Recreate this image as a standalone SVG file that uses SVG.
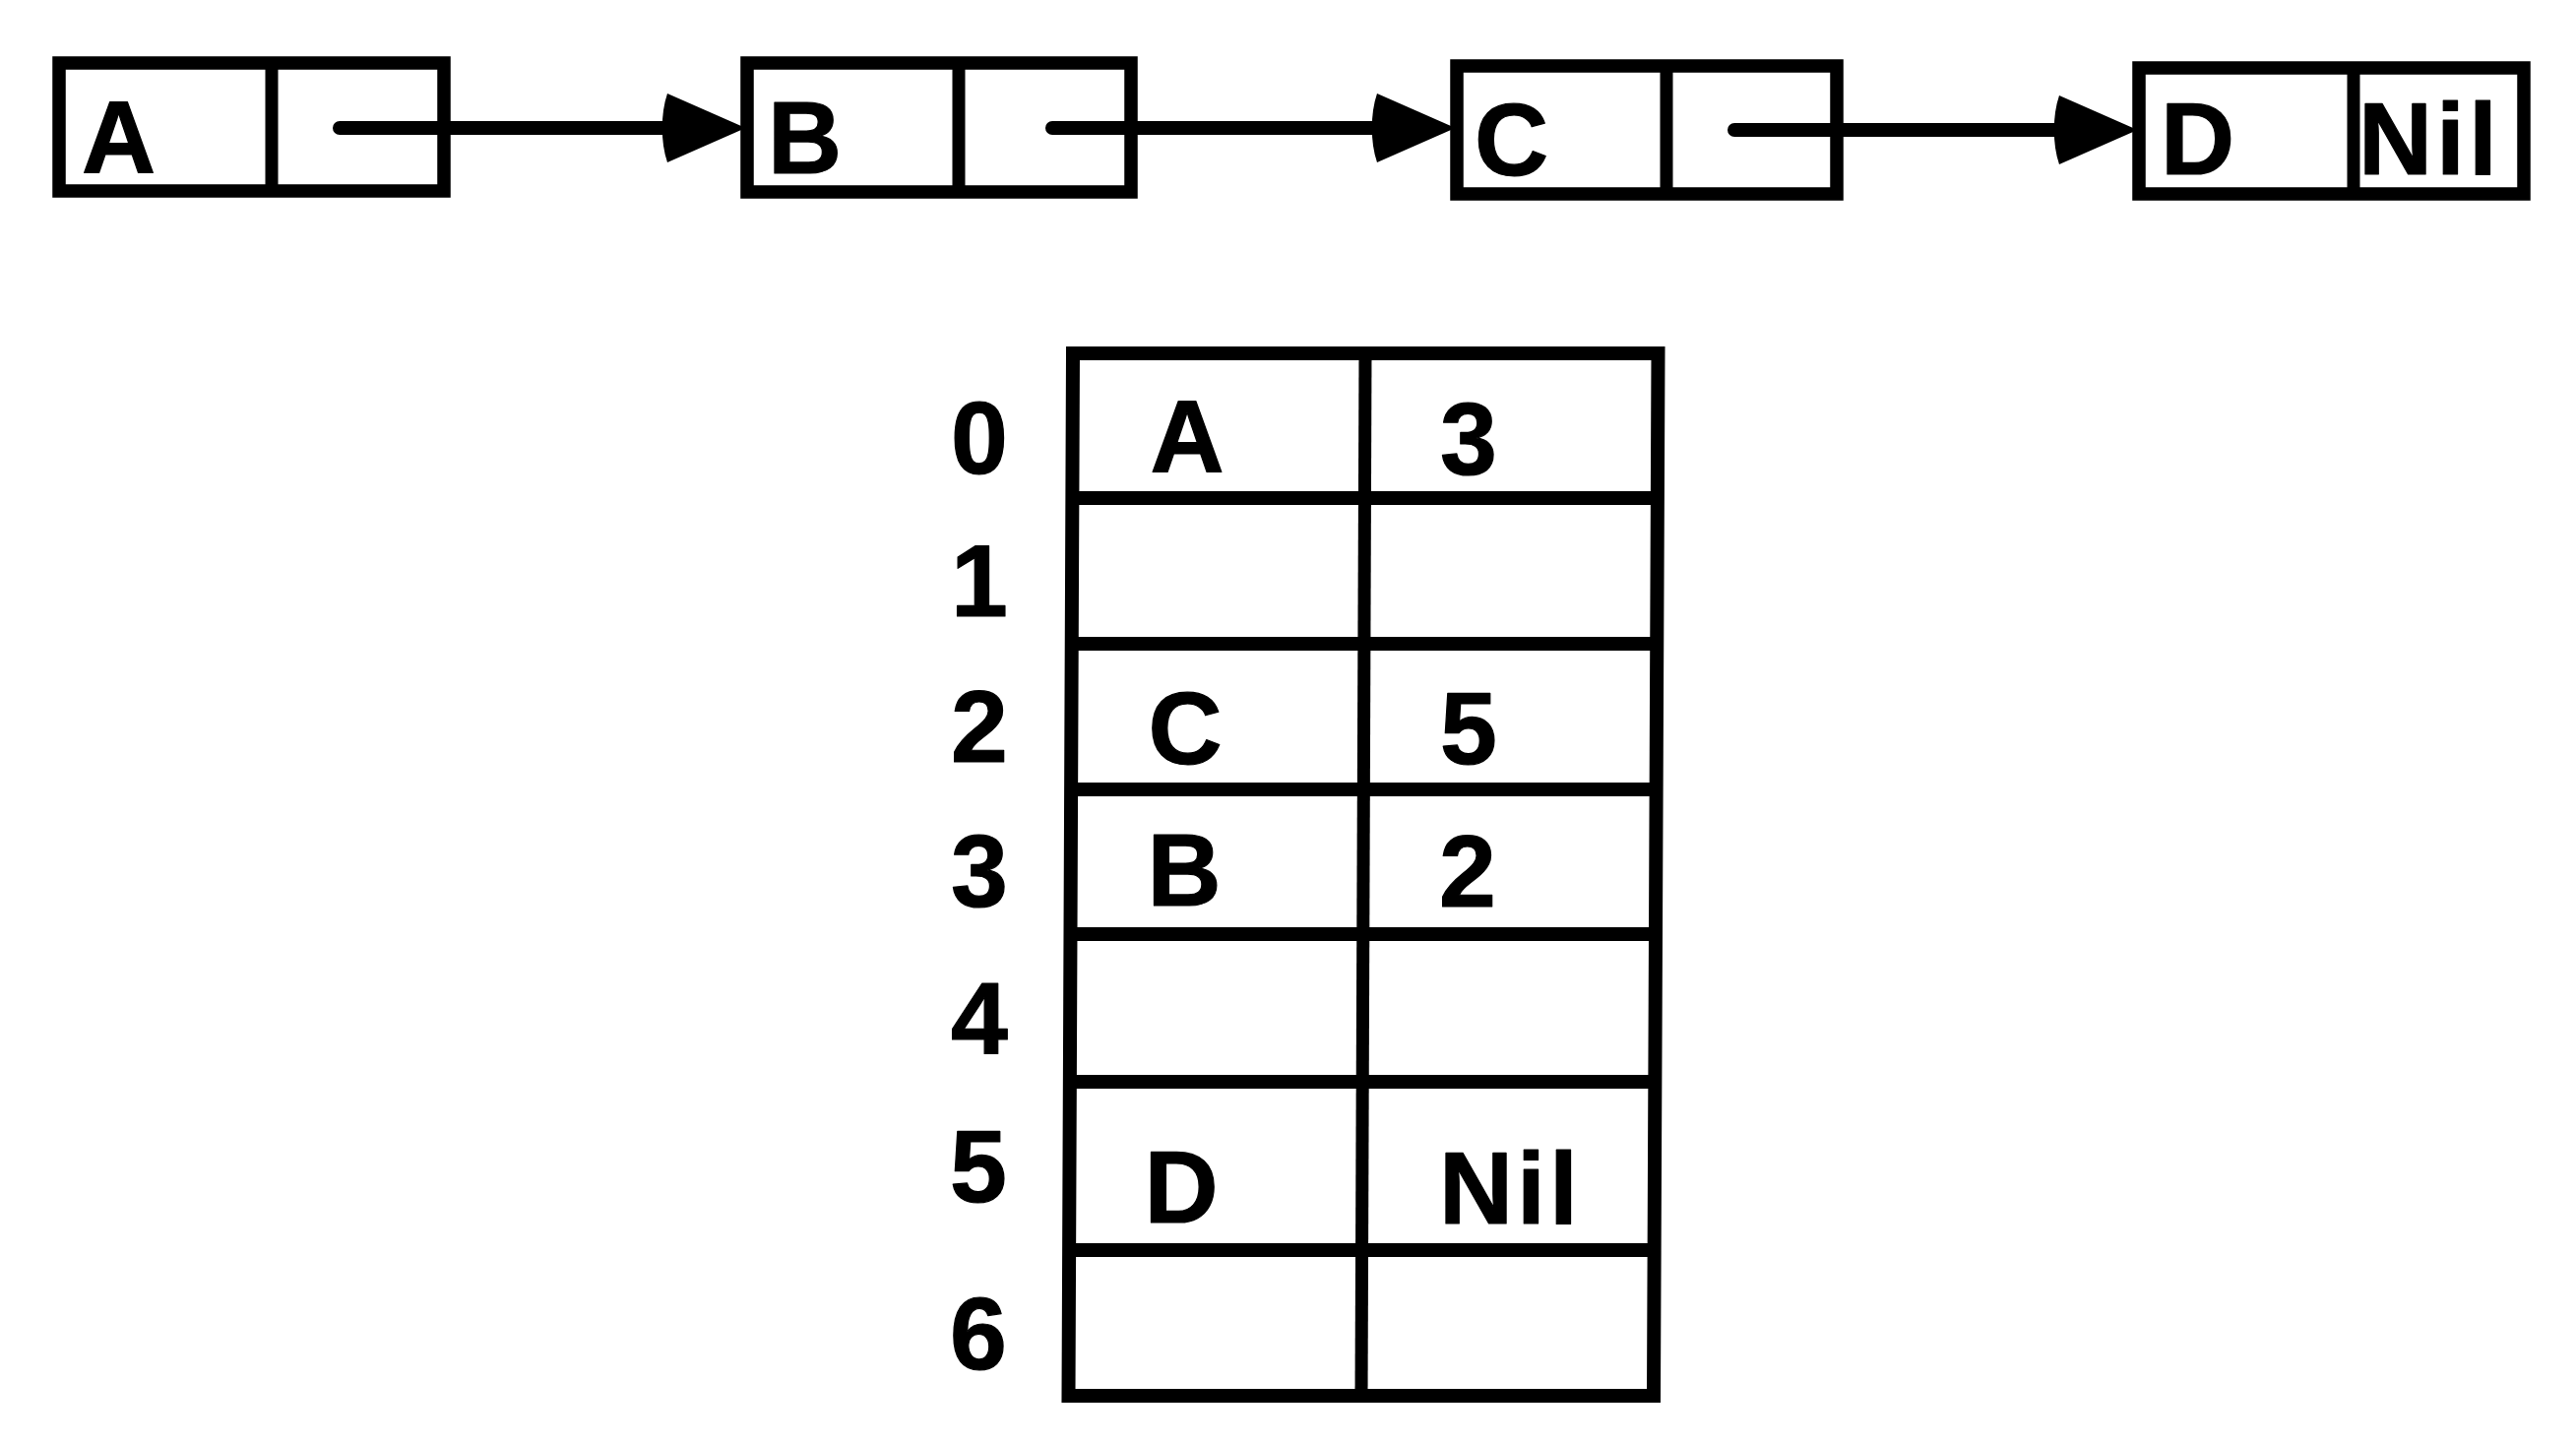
<svg xmlns="http://www.w3.org/2000/svg" width="2617" height="1467" viewBox="0 0 2617 1467">
<style>
  .box { fill: none; stroke: #000; stroke-width: 13.5; stroke-linejoin: miter; }
  .div { stroke: #000; stroke-width: 13; }
  .grid { stroke: #000; stroke-width: 14; fill: none; stroke-linecap: butt; }
  .vgrid { stroke: #000; stroke-width: 13; fill: none; }
  .t { font-family: "Liberation Sans", Arial, Helvetica, sans-serif; font-weight: bold; font-size: 104px; fill: #000; stroke: #000; stroke-width: 1.2; stroke-linejoin: round; }
  .m { text-anchor: middle; }
  .nil { letter-spacing: 4px; }
  .link { stroke: #000; stroke-width: 14; fill: none; stroke-linecap: round; }
</style>
<defs>
  <marker id="head" markerUnits="userSpaceOnUse" markerWidth="100" markerHeight="90" refX="30" refY="35" orient="auto" overflow="visible">
    <path d="M6,0 C-1,20 -1,50 6,70 L81,37 L81,33 Z" fill="#000"/>
  </marker>
</defs>
<rect width="2617" height="1467" fill="#fff"/>

<g id="node-A">
  <rect class="box" x="60" y="64" width="391" height="130"/>
  <line class="div" x1="276" y1="64" x2="276" y2="194"/>
  <text class="t" x="83" y="175">A</text>
</g>
<g id="node-B">
  <rect class="box" x="759" y="64" width="390" height="131"/>
  <line class="div" x1="974" y1="64" x2="974" y2="195"/>
  <text class="t" x="780" y="176">B</text>
</g>
<g id="node-C">
  <rect class="box" x="1480" y="67" width="386" height="130"/>
  <line class="div" x1="1693" y1="67" x2="1693" y2="197"/>
  <text class="t" x="1498" y="178">C</text>
</g>
<g id="node-D">
  <rect class="box" x="2173" y="69" width="391" height="128"/>
  <line class="div" x1="2391" y1="69" x2="2391" y2="197"/>
  <text class="t" x="2195" y="177">D</text>
  <text class="t nil" x="2396" y="177">Nil</text>
</g>

<g id="connectors">
  <line class="link" x1="345" y1="130" x2="702" y2="130" marker-end="url(#head)"/>
  <line class="link" x1="1069" y1="130" x2="1423" y2="130" marker-end="url(#head)"/>
  <line class="link" x1="1762" y1="132" x2="2116" y2="132" marker-end="url(#head)"/>
</g>

<g id="table">
  <path class="grid" d="M1090,359 L1684.5,359 L1680,1418 L1085.5,1418 Z" style="stroke-linejoin:miter"/>
  <line class="vgrid" x1="1387" y1="359" x2="1383" y2="1418"/>
  <line class="grid" x1="1090" y1="506" x2="1684" y2="506"/>
  <line class="grid" x1="1089" y1="654" x2="1683" y2="654"/>
  <line class="grid" x1="1089" y1="802" x2="1683" y2="802"/>
  <line class="grid" x1="1088" y1="949" x2="1682" y2="949"/>
  <line class="grid" x1="1088" y1="1099" x2="1682" y2="1099"/>
  <line class="grid" x1="1087" y1="1270" x2="1681" y2="1270"/>
</g>

<g id="row-labels">
  <text class="t m" x="995" y="481">0</text>
  <text class="t m" x="995" y="626">1</text>
  <text class="t m" x="995" y="774">2</text>
  <text class="t m" x="995" y="921">3</text>
  <text class="t m" x="995" y="1071">4</text>
  <text class="t m" x="994" y="1221">5</text>
  <text class="t m" x="994" y="1391">6</text>
</g>

<g id="row-0">
  <text class="t m" x="1206" y="479">A</text>
  <text class="t m" x="1492" y="482">3</text>
</g>
<g id="row-2">
  <text class="t m" x="1204" y="776">C</text>
  <text class="t m" x="1492" y="776">5</text>
</g>
<g id="row-3">
  <text class="t m" x="1203" y="920">B</text>
  <text class="t m" x="1491" y="921">2</text>
</g>
<g id="row-5">
  <text class="t m" x="1200" y="1242">D</text>
  <text class="t nil" x="1462" y="1243">Nil</text>
</g>
</svg>
